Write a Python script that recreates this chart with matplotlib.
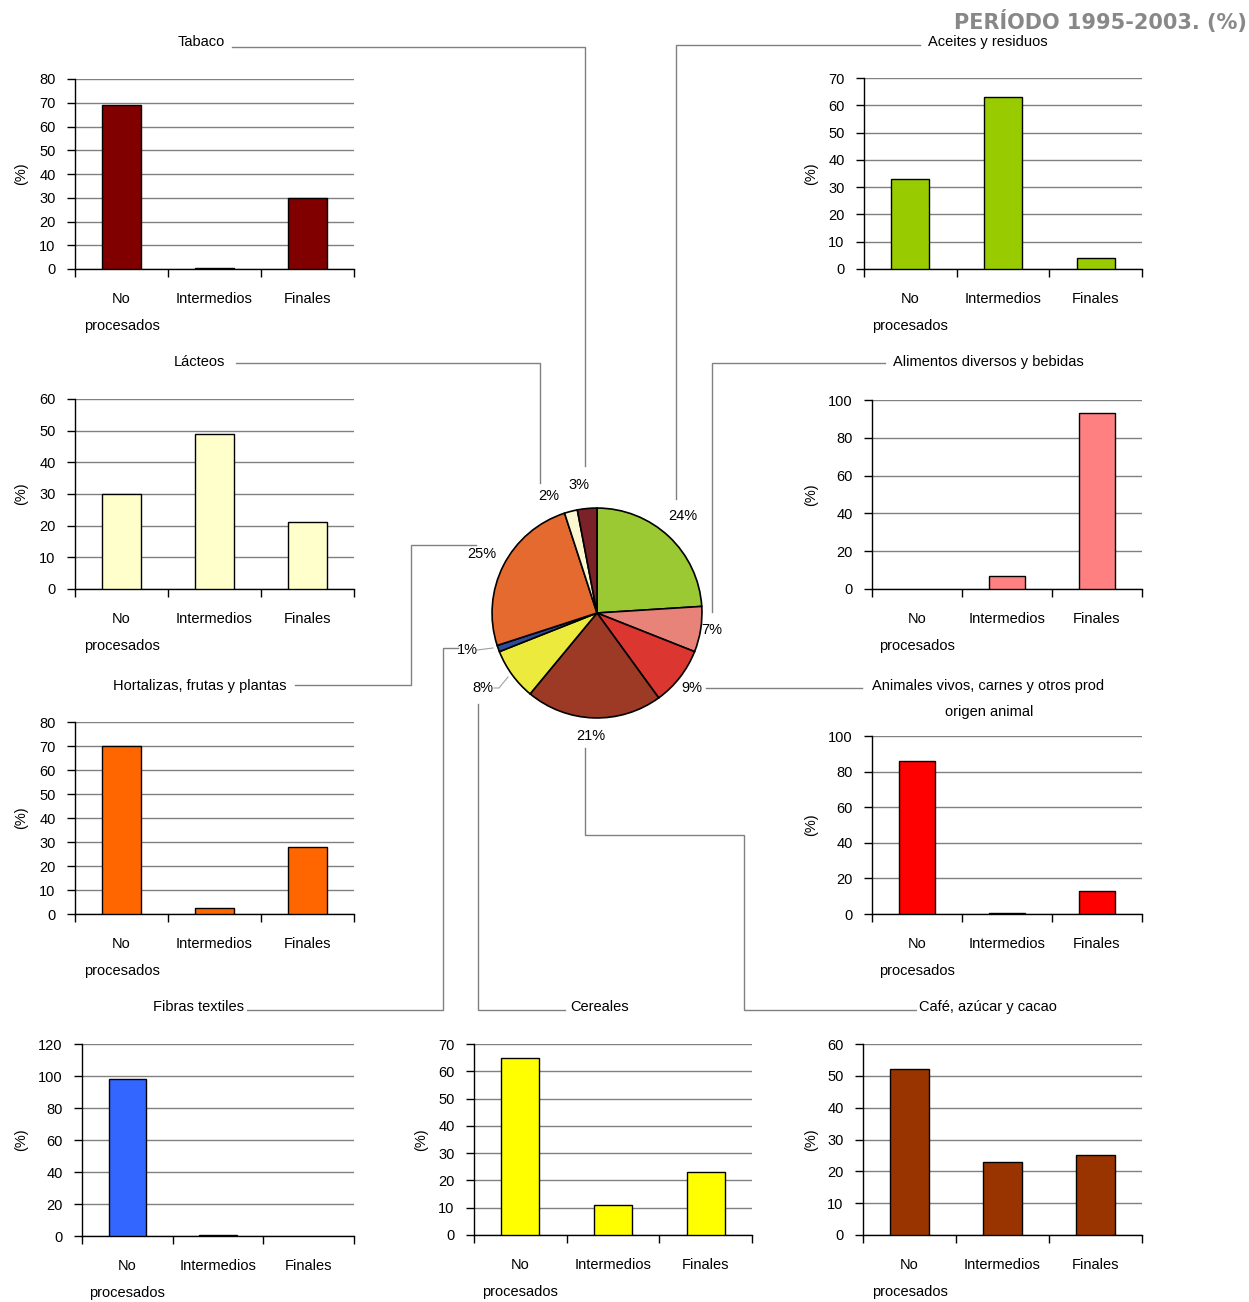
import matplotlib
matplotlib.use("Agg")
import matplotlib.pyplot as plt

plt.rcParams['font.family'] = ['Liberation Sans', 'DejaVu Sans']

W, H = 1249, 1302

categories = ["No\nprocesados", "Intermedios", "Finales"]

tabaco = [69, 0.5, 30]
aceites = [33, 63, 4]
lacteos = [30, 49, 21]
alimentos = [0, 7, 93]
hortalizas = [70, 2.5, 28]
animales = [86, 0.5, 13]
fibras = [98, 0.7, 0]
cereales = [65, 11, 23]
cafe = [52, 23, 25]

pie_names = ["Aceites y residuos", "Alimentos diversos y bebidas",
             "Animales vivos, carnes y otros prod origen animal",
             "Café, azúcar y cacao", "Cereales", "Fibras textiles",
             "Hortalizas, frutas y plantas", "Lácteos", "Tabaco"]
pie_values = [24, 7, 9, 21, 8, 1, 25, 2, 3]
pie_labels = ["24%", "7%", "9%", "21%", "8%", "1%", "25%", "2%", "3%"]
pie_colors = ["#9BC934", "#E8837A", "#DC3630", "#9C3A26", "#EDEA3E",
              "#2E4C9C", "#E56A30", "#FBF7CF", "#7B2228"]

fig = plt.figure(figsize=(W / 100, H / 100), dpi=100)

def rect(x0, x1, y0, y1):
    return [x0 / W, 1 - y1 / H, (x1 - x0) / W, (y1 - y0) / H]

FS = 10.5

# overlay for connectors and text
ov = fig.add_axes([0, 0, 1, 1], zorder=0)
ov.set_xlim(0, W)
ov.set_ylim(H, 0)
ov.axis('off')

def bar_panel(vals, color, x0, x1, y0, y1, ymax, ystep, labx):
    ax = fig.add_axes(rect(x0, x1, y0, y1), zorder=2)
    ax.patch.set_alpha(0)
    xs = range(len(vals))
    lws = [1 if v > 0 else 0 for v in vals]
    ax.bar(xs, vals, width=0.41, color=color, edgecolor='black', linewidth=lws, zorder=3)
    ax.set_xlim(-0.5, 2.5)
    ax.set_ylim(0, ymax)
    ax.set_yticks(list(range(0, ymax + 1, ystep)))
    ax.yaxis.grid(True, color='#808080', linewidth=1, zorder=0)
    ax.set_axisbelow(True)
    for s in ['top', 'right']:
        ax.spines[s].set_visible(False)
    for s in ['left', 'bottom']:
        ax.spines[s].set_color('black')
        ax.spines[s].set_linewidth(1)
    ax.set_xticks([0, 1, 2])
    ax.set_xticklabels(categories, fontsize=FS, linespacing=2.12, va='top')
    ax.tick_params(axis='x', which='major', length=0, pad=16.8)
    ax.set_xticks([-0.5, 0.5, 1.5, 2.5], minor=True)
    ax.tick_params(axis='x', which='minor', length=6, direction='out', width=1)
    ax.tick_params(axis='y', length=6, direction='out', width=1, labelsize=FS, pad=8)
    ax.set_ylabel("(%)", fontsize=FS)
    ax.yaxis.set_label_coords(-(x0 - labx - 8) / (x1 - x0), 0.5)
    return ax

bar_panel(tabaco, "#800000", 75, 354, 79, 269, 80, 10, 20)
bar_panel(aceites, "#99CC00", 864, 1142, 78, 269, 70, 10, 810)
bar_panel(lacteos, "#FFFFCC", 75, 354, 399, 589, 60, 10, 20)
bar_panel(alimentos, "#FF8080", 872, 1142, 400, 589, 100, 20, 810)
bar_panel(hortalizas, "#FF6600", 75, 354, 722, 914, 80, 10, 20)
bar_panel(animales, "#FF0000", 872, 1142, 736, 914, 100, 20, 810)
bar_panel(fibras, "#3366FF", 82, 354, 1044, 1236, 120, 20, 20)
bar_panel(cereales, "#FFFF00", 474, 752, 1044, 1235, 70, 10, 420)
bar_panel(cafe, "#993300", 863, 1142, 1044, 1235, 60, 10, 810)

# pie
cx, cy, r = 597, 613, 106
pax = fig.add_axes(rect(cx - r, cx + r, cy - r, cy + r), zorder=3)
pax.pie(pie_values, colors=pie_colors, startangle=90, counterclock=False,
        wedgeprops=dict(edgecolor='black', linewidth=1.2), radius=1)
pax.set_xlim(-1.01, 1.01)
pax.set_ylim(-1.01, 1.01)
pax.set_aspect('equal')
pax.axis('off')

label_pos = [(683, 516), (712, 630), (692, 688), (591, 736), (483, 688),
             (467, 650), (482, 554), (549, 496), (579, 485)]
for lab, (x, y) in zip(pie_labels, label_pos):
    ov.text(x, y, lab, fontsize=FS, ha='center', va='center')

# leaders from small labels
ov.plot([477, 493], [650, 648], color='#A0A0A0', lw=0.8)
ov.plot([494, 499, 508], [688, 688, 677], color='#A0A0A0', lw=0.8)

lc = '#808080'
lw = 1.0
conns = [
    [(232, 47), (585, 47), (585, 466)],
    [(920, 45), (676, 45), (676, 499)],
    [(236, 363), (540, 363), (540, 483)],
    [(885, 363), (712, 363), (712, 612)],
    [(295, 685), (411, 685), (411, 545), (476, 545)],
    [(706, 688), (862, 688)],
    [(243, 1010), (443, 1010), (443, 648), (458, 648)],
    [(565, 1010), (478, 1010), (478, 704)],
    [(918, 1010), (744, 1010), (744, 835), (585, 835), (585, 748)],
]
for c in conns:
    ov.plot([p[0] for p in c], [p[1] for p in c], color=lc, lw=lw,
            solid_joinstyle='miter')

titles = [
    ("Tabaco", 201, 42),
    ("Aceites y residuos", 988, 42),
    ("Lácteos", 199, 362),
    ("Alimentos diversos y bebidas", 988, 362),
    ("Hortalizas, frutas y plantas", 200, 686),
    ("Animales vivos, carnes y otros prod", 988, 686),
    ("origen animal", 989, 712),
    ("Fibras textiles", 199, 1007),
    ("Cereales", 600, 1007),
    ("Café, azúcar y cacao", 988, 1007),
]
for t, x, y in titles:
    ov.text(x, y, t, fontsize=FS, ha='center', va='center',
            bbox=dict(facecolor='white', edgecolor='none', pad=1.5))

ov.text(1247, 22, "PERÍODO 1995-2003. (%)", fontsize=15, fontweight='bold',
        color='#888888', ha='right', va='center', family='DejaVu Sans')

fig.savefig("out.png", dpi=100)
